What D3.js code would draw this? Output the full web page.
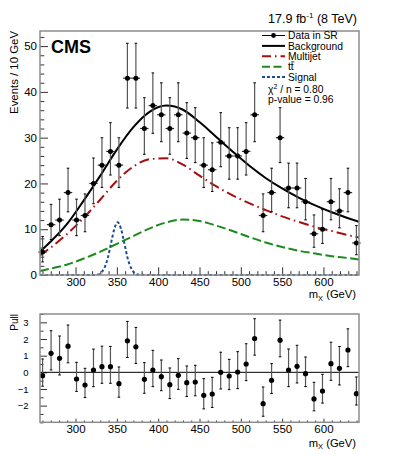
<!DOCTYPE html>
<html>
<head>
<meta charset="utf-8">
<script src="https://cdn.jsdelivr.net/npm/d3@7"></script>
<style>
body { margin: 0; background: #fff; }
svg { display: block; font-family: "Liberation Sans", Arial, Helvetica, sans-serif; }
</style>
</head>
<body>
<div id="main"></div>
<script>
//////////
// DATA //
//////////

// 38 bins in m_X (GeV)
const bin_edges = [255, 645]
const counts = [5, 11, 12, 18, 12, 13, 20, 24, 27, 24, 43, 43, 32, 37, 35, 32, 35, 31, 30, 24,
	23, 29, 26, 26, 27, 35, 13, 18, 30, 19, 19, 16, 9, 10, 16, 14, 18, 7]
const pulls = [-0.2, 1.14, 0.84, 1.57, -0.4, -0.76, 0.14, 0.34, 0.34, -0.68, 1.89, 1.53, -0.42, 0.14,
	-0.26, -0.74, -0.18, -0.62, -0.58, -1.38, -1.3, 0.0, -0.22, 0.02, 0.5, 2.03, -1.88, -0.48, 1.93,
	0.14, 0.36, -0.08, -1.6, -1.12, 0.52, 0.24, 1.34, -1.28]

// fitted shapes
const curve_mass = [257, 270, 290, 310, 330, 350, 370, 390, 410, 430, 450, 470, 490, 510, 530, 550, 570, 590, 610, 630, 643]
const background = [5.1, 7.3, 11.2, 16.3, 21.7, 27.4, 32.3, 35.7, 37.0, 36.1, 33.4, 30.2, 27.0, 23.9, 21.2, 18.9, 16.9, 15.2, 13.7, 12.4, 11.6]
const multijet = [4.3, 6.0, 9.0, 12.5, 16.5, 20.6, 23.7, 25.3, 25.5, 24.1, 21.7, 19.4, 17.4, 15.7, 14.2, 12.8, 11.6, 10.5, 9.6, 8.7, 8.2]
const ttbar = [0.85, 1.4, 2.3, 3.6, 5.1, 6.8, 8.5, 10.2, 11.5, 12.1, 11.8, 10.8, 9.6, 8.3, 7.1, 6.1, 5.3, 4.7, 4.1, 3.7, 3.4]
const signal_mass = [257, 320, 327, 335, 339, 343, 347, 351, 355, 359, 363, 367, 375, 390, 643]
const signal = [0, 0, 0.1, 1.6, 3.7, 7.0, 10.1, 11.5, 10.1, 7.0, 3.7, 1.6, 0.1, 0, 0]

const x_ticks = [300, 350, 400, 450, 500, 550, 600]
const y_ticks = [0, 10, 20, 30, 40, 50]
const pull_ticks = [-2, -1, 0, 1, 2, 3]

///////////
// SETUP //
///////////

let width = 399
let height = 471

const black = '#000'
const frame_grey = '#8c8c8c'
const red = '#a50f0f'
const green = '#1e8a1e'
const blue = '#1b4f8f'

let x = d3.scaleLinear().domain([257, 643]).range([40, 359])
let y = d3.scaleLinear().domain([0, 53.3]).range([275, 31])
let yp = d3.scaleLinear().domain([-3, 3.5]).range([422.3, 314])

let n_bins = counts.length
let bin_w = (bin_edges[1] - bin_edges[0]) / n_bins
let bins = counts.map((c, i) => ({
	m: bin_edges[0] + (i + 0.5) * bin_w,
	n: c,
	pull: pulls[i],
	err: poisson_err(c)
}))

//////////
// DRAW //
//////////

let svg = d3.select("#main").append("svg")
	.attr("width", width)
	.attr("height", height)

draw_y_axis(y, y_ticks, 2, 3, 11.5, -8, -4.3)
draw_y_axis(yp, pull_ticks, 0.5, 11.5, 9.5, -7, -3.5)
draw_x_axis(275, 3.2, -7.7, -3.8)
draw_x_axis(422.3, 3, -3.5, -1.8)

draw_curves()
draw_data()
draw_pulls()
draw_frames()
draw_text()
draw_legend()

function poisson_err(n) {
	// Gehrels approximation of the 68% Poisson interval
	let hi = Math.sqrt(n + 0.75) + 1
	let lo = n - n * Math.pow(1 - 1 / (9 * n) - 1 / (3 * Math.sqrt(n)), 3)
	return [lo, hi]
}

function draw_y_axis(scale, ticks, minor_step, pad, font, major, minor) {
	let minors = d3.range(scale.domain()[0], scale.domain()[1] + 1e-9, minor_step)
		.filter(v => !ticks.some(t => Math.abs(t - v) < 1e-9))
	let g = svg.append("g").attr("transform", "translate(40,0)")
	g.call(d3.axisLeft(scale).tickValues(minors).tickSize(minor).tickFormat(""))
	let g2 = svg.append("g").attr("transform", "translate(40,0)")
	g2.call(d3.axisLeft(scale).tickValues(ticks).tickSize(major).tickPadding(pad).tickFormat(d3.format("d")))
	svg.selectAll(".domain").remove()
	svg.selectAll(".tick line").attr("stroke", "#333")
	g2.selectAll("text").attr("font-size", font).attr("fill", black)
		.attr("font-family", "Liberation Sans, Arial, sans-serif")
}

function draw_x_axis(y0, pad, major, minor) {
	let minors = d3.range(260, 641, 10).filter(v => v % 50 != 0)
	let g = svg.append("g").attr("transform", `translate(0,${y0})`)
	g.call(d3.axisBottom(x).tickValues(minors).tickSize(minor).tickFormat(""))
	let g2 = svg.append("g").attr("transform", `translate(0,${y0})`)
	g2.call(d3.axisBottom(x).tickValues(x_ticks).tickSize(major).tickPadding(pad).tickFormat(d3.format("d")))
	svg.selectAll(".domain").remove()
	svg.selectAll(".tick line").attr("stroke", "#333")
	g2.selectAll("text").attr("font-size", 11.5).attr("fill", black)
		.attr("font-family", "Liberation Sans, Arial, sans-serif")
}

function draw_curves() {
	let line = d3.line()
		.x(d => x(d[0]))
		.y(d => y(d[1]))
		.curve(d3.curveMonotoneX)
	svg.append("clipPath").attr("id", "top-clip")
		.append("rect").attr("x", 40).attr("y", 31).attr("width", 319).attr("height", 245)

	let sets = [
		{ m: signal_mass, v: signal, color: blue, dash: "3,2.2", w: 2 },
		{ m: curve_mass, v: ttbar, color: green, dash: "9,3.5", w: 2 },
		{ m: curve_mass, v: multijet, color: red, dash: "10,4,1.5,4", w: 2 },
		{ m: curve_mass, v: background, color: black, dash: null, w: 2 }
	]
	svg.append("g").attr("clip-path", "url(#top-clip)")
		.selectAll("path.curve")
		.data(sets)
		.enter().append("path")
			.attr("class", "curve")
			.attr("d", s => line(s.m.map((m, i) => [m, s.v[i]])))
			.attr("fill", "none")
			.attr("stroke", s => s.color)
			.attr("stroke-width", s => s.w)
			.attr("stroke-dasharray", s => s.dash)
}

function draw_data() {
	let g = svg.append("g")
	let pts = g.selectAll("g.pt").data(bins).enter().append("g").attr("class", "pt")
	pts.append("line")
		.attr("x1", d => x(d.m)).attr("x2", d => x(d.m))
		.attr("y1", d => y(d.n + d.err[1])).attr("y2", d => y(d.n - d.err[0]))
		.attr("stroke", "#555").attr("stroke-width", 1.2)
	pts.append("line")
		.attr("x1", d => x(d.m - bin_w / 2)).attr("x2", d => x(d.m + bin_w / 2))
		.attr("y1", d => y(d.n)).attr("y2", d => y(d.n))
		.attr("stroke", "#333").attr("stroke-width", 1.2)
	pts.selectAll("line.cap")
		.data(d => [[d.m, d.n + d.err[1]], [d.m, d.n - d.err[0]]])
		.enter().append("line")
			.attr("class", "cap")
			.attr("x1", d => x(d[0]) - 1.3).attr("x2", d => x(d[0]) + 1.3)
			.attr("y1", d => y(d[1])).attr("y2", d => y(d[1]))
			.attr("stroke", black).attr("stroke-width", 1)
	pts.append("circle")
		.attr("cx", d => x(d.m)).attr("cy", d => y(d.n))
		.attr("r", 2.5).attr("fill", black)
}

function pull_bars(d) {
	// pull uses the interval on the side of the fit, so the other side is scaled
	let [lo, hi] = d.err
	return d.pull >= 0 ? [d.pull - 1, d.pull + hi / lo] : [d.pull - lo / hi, d.pull + 1]
}

function draw_pulls() {
	svg.append("line")
		.attr("x1", 40).attr("x2", 359)
		.attr("y1", yp(0)).attr("y2", yp(0))
		.attr("stroke", black).attr("stroke-width", 1)
	let pts = svg.append("g").selectAll("g.pull").data(bins).enter().append("g").attr("class", "pull")
	pts.append("line")
		.attr("x1", d => x(d.m)).attr("x2", d => x(d.m))
		.attr("y1", d => yp(pull_bars(d)[1])).attr("y2", d => yp(pull_bars(d)[0]))
		.attr("stroke", "#555").attr("stroke-width", 1.2)
	pts.selectAll("line.cap")
		.data(d => pull_bars(d).map(v => [d.m, v]))
		.enter().append("line")
			.attr("class", "cap")
			.attr("x1", d => x(d[0]) - 1.3).attr("x2", d => x(d[0]) + 1.3)
			.attr("y1", d => yp(d[1])).attr("y2", d => yp(d[1]))
			.attr("stroke", black).attr("stroke-width", 1)
	pts.append("circle")
		.attr("cx", d => x(d.m)).attr("cy", d => yp(d.pull))
		.attr("r", 2.6).attr("fill", black)
}

function draw_frames() {
	svg.append("rect")
		.attr("x", 40).attr("y", 31).attr("width", 319).attr("height", 244)
		.attr("fill", "none").attr("stroke", frame_grey).attr("stroke-width", 1.5)
	svg.append("rect")
		.attr("x", 40).attr("y", 314).attr("width", 319).attr("height", 108.3)
		.attr("fill", "none").attr("stroke", frame_grey).attr("stroke-width", 1.5)
}

function draw_text() {
	svg.append("text")
		.attr("x", 51).attr("y", 52.5)
		.attr("font-size", 18).attr("font-weight", "bold")
		.text("CMS")

	let lumi = svg.append("text")
		.attr("x", 357).attr("y", 23)
		.attr("text-anchor", "end").attr("font-size", 12.5)
	lumi.append("tspan").text("17.9 fb")
	lumi.append("tspan").attr("dy", -5).attr("font-size", 8).text("-1")
	lumi.append("tspan").attr("dy", 5).text(" (8 TeV)")

	svg.append("text")
		.attr("transform", "translate(18,31) rotate(-90)")
		.attr("text-anchor", "end").attr("font-size", 11.4)
		.text("Events / 10 GeV")

	svg.append("text")
		.attr("transform", "translate(18,314) rotate(-90)")
		.attr("text-anchor", "end").attr("font-size", 10)
		.text("Pull")

	for (let yy of [298, 446.5]) {
		let t = svg.append("text")
			.attr("x", 356).attr("y", yy)
			.attr("text-anchor", "end").attr("font-size", 11.2)
		t.append("tspan").text("m")
		t.append("tspan").attr("dy", 2.5).attr("font-size", 7.5).text("X")
		t.append("tspan").attr("dy", -2.5).text(" (GeV)")
	}
}

function draw_legend() {
	let rows = [
		{ label: "Data in SR", color: black, dash: null, w: 1, dot: true },
		{ label: "Background", color: black, dash: null, w: 2 },
		{ label: "Multijet", color: red, dash: "9,4,1.5,4", w: 2 },
		{ label: "tt", color: green, dash: "8,3.5", w: 2 },
		{ label: "Signal", color: blue, dash: "3,2", w: 2 }
	]
	let g = svg.append("g").attr("font-size", 10.3)
	let row = g.selectAll("g.row").data(rows).enter().append("g")
		.attr("class", "row")
		.attr("transform", (d, i) => `translate(0,${35.5 + i * 10.4})`)
	row.append("line")
		.attr("x1", 262).attr("x2", 285)
		.attr("stroke", d => d.color).attr("stroke-width", d => d.w)
		.attr("stroke-dasharray", d => d.dash)
	row.filter(d => d.dot).append("circle")
		.attr("cx", 273.5).attr("r", 2.4).attr("fill", black)
	row.append("text")
		.attr("x", 288).attr("y", 3.7)
		.text(d => d.label)
	// overline for t-bar
	row.filter(d => d.label == "tt").append("line")
		.attr("x1", 291.2).attr("x2", 294.3).attr("y1", -4.8).attr("y2", -4.8)
		.attr("stroke", black).attr("stroke-width", 0.8)

	let chi = g.append("text").attr("x", 268).attr("y", 92.5)
	chi.append("tspan").text("\u03c7")
	chi.append("tspan").attr("dy", -4).attr("font-size", 7).text("2")
	chi.append("tspan").attr("dy", 4).text(" / n = 0.80")
	g.append("text").attr("x", 268).attr("y", 102.5).text("p-value = 0.96")
}
</script>
</body>
</html>
